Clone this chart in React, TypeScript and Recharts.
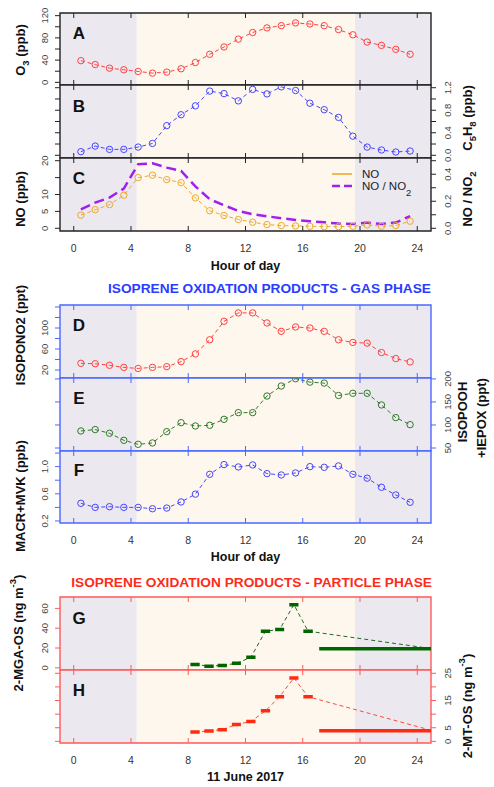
import React from "react";
import { ComposedChart, Line, XAxis, YAxis, ReferenceArea } from "recharts";

// hourly diurnal means (hour of day, bin centres)
const hours = [0.5, 1.5, 2.5, 3.5, 4.5, 5.5, 6.5, 7.5, 8.5, 9.5, 10.5, 11.5, 12.5, 13.5, 14.5, 15.5, 16.5, 17.5, 18.5, 19.5, 20.5, 21.5, 22.5, 23.5];
const o3 = [39, 32, 25.5, 22.6, 19.6, 16.6, 18.4, 24.4, 35.6, 50.5, 63.6, 77.8, 89.7, 98, 102, 107, 105, 102, 95, 85.6, 72.5, 66.5, 59.4, 50.5];
const isoprene = [0.064, 0.164, 0.105, 0.105, 0.146, 0.21, 0.527, 0.72, 0.878, 1.14, 1.095, 0.966, 1.17, 1.09, 1.215, 1.15, 0.925, 0.81, 0.673, 0.34, 0.146, 0.094, 0.058, 0.076];
const no = [3.9, 5.5, 7.0, 9.8, 15.0, 15.7, 14.4, 13.5, 9.0, 5.2, 3.8, 2.6, 1.8, 1.1, 0.8, 0.7, 0.6, 0.5, 0.5, 0.6, 1.0, 0.6, 0.8, 2.1];
const noRatio = [0.14, 0.19, 0.227, 0.294, 0.474, 0.481, 0.449, 0.425, 0.31, 0.215, 0.17, 0.128, 0.104, 0.089, 0.074, 0.062, 0.052, 0.044, 0.035, 0.032, 0.042, 0.032, 0.042, 0.09];
const isopono2 = [32.8, 32, 29, 25, 23, 25, 26.4, 36, 50.7, 77.6, 112.8, 128.8, 128.8, 109.6, 93.6, 102, 100, 93.6, 77.6, 72.5, 71.2, 53.3, 41.8, 35.4];
const isopooh = [87, 90, 82, 66.7, 58, 61, 85.5, 105, 97.8, 99.3, 112.3, 126.8, 126.8, 162.9, 184.6, 200.5, 193, 191, 164, 168.8, 168.8, 143.5, 116, 100.7];
const macrMvk = [0.46, 0.4, 0.41, 0.4, 0.4, 0.38, 0.39, 0.48, 0.595, 0.887, 1.03, 0.995, 1.025, 0.897, 0.877, 0.907, 1.0, 0.99, 1.01, 0.887, 0.83, 0.696, 0.583, 0.475];

// filter samples, 11 June 2017 (last one runs overnight)
const sampleStart = [8.15, 9.12, 10.05, 11.05, 12.05, 13.07, 14.07, 15.06, 16.04, 17.15];
const sampleEnd = [8.8, 9.78, 10.7, 11.68, 12.7, 13.72, 14.7, 15.7, 16.7, 33];
const mgaOs = [3.4, 1.7, 2.4, 4.5, 10.6, 37, 38.7, 63.8, 37, 19.2];
const mtOs = [3.45, 3.8, 4.3, 6.2, 7.3, 11.2, 16.4, 23.3, 16.4, 3.9];

const hourTicks = [0, 4, 8, 12, 16, 20, 24];
const sunrise = 4.4;
const sunset = 19.65;

const o3Ticks = [0, 20, 40, 60, 80, 100, 120];
const o3Labels = [0, 40, 80, 120];
const isopTicks = [0, 0.2, 0.4, 0.6, 0.8, 1.0, 1.2];
const isopLabels = [0, 0.4, 0.8, 1.2];
const noTicks = [0, 5, 10, 15, 20];
const noLabels = [0, 5, 10, 20];
const ratioTicks = [0, 0.1, 0.2, 0.3, 0.4, 0.5];
const ratioLabels = [0, 0.2, 0.4];
const isoponoTicks = [20, 40, 60, 80, 100, 120, 140];
const isoponoLabels = [20, 60, 100];
const isopoohTicks = [50, 100, 150, 200];
const macrTicks = [0.2, 0.4, 0.6, 0.8, 1.0, 1.2];
const macrLabels = [0.2, 0.6, 1.0];
const mgaTicks = [0, 20, 40, 60];
const mtTicks = [0, 5, 10, 15, 20, 25];
const mtLabels = [0, 5, 15, 25];

const FONT = "'Liberation Sans', Arial, Helvetica, sans-serif";
const X_DOMAIN: [number, number] = [-0.96, 24.96];
const NIGHT = "#ECE8F0";
const DAY = "#FEF7EE";

const gasRows = hours.map((hour, i) => ({
  hour,
  o3: o3[i],
  isoprene: isoprene[i],
  no: no[i],
  noRatio: noRatio[i],
  isopono2: isopono2[i],
  isopooh: isopooh[i],
  macr: macrMvk[i],
}));

function barRows(values: number[]) {
  const rows: { hour: number; v: number | null }[] = [];
  values.forEach((v, i) => {
    rows.push({ hour: sampleStart[i], v });
    rows.push({ hour: sampleEnd[i], v });
    rows.push({ hour: sampleEnd[i] + 0.01, v: null });
  });
  return rows;
}
function midRows(values: number[]) {
  return values.map((v, i) => ({ hour: (sampleStart[i] + sampleEnd[i]) / 2, v }));
}

type AxisSpec = { domain: [number, number]; ticks: number[]; labels: number[]; digits: number };

function yTick(spec: AxisSpec, side: "left" | "right", color: string, withLabels: boolean) {
  return (p: any) => {
    const v = p.payload.value;
    const dir = side === "left" ? -1 : 1;
    const show = withLabels && spec.labels.some((l) => Math.abs(l - v) < 1e-9);
    return (
      <g>
        <line x1={p.x} x2={p.x + dir * 5} y1={p.y} y2={p.y} stroke={color} strokeWidth={1} />
        {show && (
          <text
            transform={`translate(${p.x + dir * 16},${p.y}) rotate(-90)`}
            textAnchor="middle"
            dominantBaseline="central"
            fontSize={9.5}
            fill="#444"
            fontFamily={FONT}
          >
            {v.toFixed(spec.digits)}
          </text>
        )}
      </g>
    );
  };
}

function xTick(pos: "top" | "bottom", color: string, showLabels: boolean) {
  return (p: any) => (
    <g>
      <line x1={p.x} x2={p.x} y1={p.y} y2={p.y + (pos === "top" ? 5 : -5)} stroke={color} strokeWidth={1} />
      {showLabels && (
        <text x={p.x} y={p.y + 21} textAnchor="middle" fontSize={10.5} fill="#333" fontFamily={FONT}>
          {p.payload.value}
        </text>
      )}
    </g>
  );
}

interface PanelProps {
  top: number;
  bottom: number;
  data?: any[];
  left: AxisSpec;
  right?: AxisSpec;
  labelSide: "left" | "right" | "both";
  color: string;
  showX?: boolean;
  children: React.ReactNode;
}

function Panel({ top, bottom, data, left, right, labelSide, color, showX = false, children }: PanelProps) {
  const h = bottom - top;
  const rightSpec = right ?? left;
  const hasRight = labelSide !== "left";
  return (
    <div style={{ position: "absolute", left: 0, top: top - 10, width: 494, height: h + 40 }}>
      <ComposedChart width={494} height={h + 40} data={data} margin={{ top: 0, right: 0, bottom: 0, left: 0 }}>
        <XAxis
          dataKey="hour"
          type="number"
          domain={X_DOMAIN}
          allowDataOverflow
          ticks={hourTicks}
          interval={0}
          height={30}
          tickSize={0}
          tickMargin={0}
          tickLine={false}
          axisLine={false}
          tick={xTick("bottom", color, showX)}
        />
        <XAxis
          xAxisId="t"
          orientation="top"
          dataKey="hour"
          type="number"
          domain={X_DOMAIN}
          allowDataOverflow
          ticks={hourTicks}
          interval={0}
          height={10}
          tickSize={0}
          tickMargin={0}
          tickLine={false}
          axisLine={false}
          tick={xTick("top", color, false)}
        />
        <YAxis
          yAxisId="L"
          type="number"
          domain={left.domain}
          allowDataOverflow
          ticks={left.ticks}
          interval={0}
          width={60}
          tickSize={0}
          tickMargin={0}
          tickLine={false}
          axisLine={false}
          tick={yTick(left, "left", color, labelSide !== "right")}
        />
        <YAxis
          yAxisId="R"
          orientation="right"
          type="number"
          domain={rightSpec.domain}
          allowDataOverflow
          ticks={rightSpec.ticks}
          interval={0}
          width={63}
          tickSize={0}
          tickMargin={0}
          tickLine={false}
          axisLine={false}
          tick={hasRight ? yTick(rightSpec, "right", color, true) : () => <g />}
        />
        <ReferenceArea yAxisId="L" x1={X_DOMAIN[0]} x2={sunrise} fill={NIGHT} fillOpacity={1} stroke="none" />
        <ReferenceArea yAxisId="L" x1={sunrise} x2={sunset} fill={DAY} fillOpacity={1} stroke="none" />
        <ReferenceArea yAxisId="L" x1={sunset} x2={X_DOMAIN[1]} fill={NIGHT} fillOpacity={1} stroke="none" />
        {children}
        <ReferenceArea yAxisId="L" x1={X_DOMAIN[0]} x2={X_DOMAIN[1]} fill="none" stroke={color} strokeWidth={1.4} />
      </ComposedChart>
    </div>
  );
}

function dots(color: string) {
  return { r: 3.2, fill: "transparent", stroke: color, strokeWidth: 1, strokeDasharray: "none" };
}

function Rot({ x, y, size = 13, children }: { x: number; y: number; size?: number; children: React.ReactNode }) {
  return (
    <text
      transform={`translate(${x},${y}) rotate(-90)`}
      textAnchor="middle"
      dominantBaseline="central"
      fontSize={size}
      fontWeight="bold"
      fill="#111"
      fontFamily={FONT}
    >
      {children}
    </text>
  );
}

const sub = { baselineShift: "sub", fontSize: 9.5 } as any;
const sup = { baselineShift: "super", fontSize: 9.5 } as any;

export default function App() {
  const BLACK = "#222";
  const BLUE = "#4a68ff";
  const RED = "#ff5a5a";

  const o3Axis: AxisSpec = { domain: [-4.8, 124.8], ticks: o3Ticks, labels: o3Labels, digits: 0 };
  const isopAxis: AxisSpec = { domain: [-0.048, 1.248], ticks: isopTicks, labels: isopLabels, digits: 1 };
  const noAxis: AxisSpec = { domain: [-0.8, 20.8], ticks: noTicks, labels: noLabels, digits: 0 };
  const ratioAxis: AxisSpec = { domain: [-0.02, 0.52], ticks: ratioTicks, labels: ratioLabels, digits: 1 };
  const isoponoAxis: AxisSpec = { domain: [4.8, 143.8], ticks: isoponoTicks, labels: isoponoLabels, digits: 0 };
  const isopoohAxis: AxisSpec = { domain: [43.5, 202], ticks: isopoohTicks, labels: isopoohTicks, digits: 0 };
  const macrAxis: AxisSpec = { domain: [0.17, 1.23], ticks: macrTicks, labels: macrLabels, digits: 1 };
  const mgaAxis: AxisSpec = { domain: [-2.2, 71.5], ticks: mgaTicks, labels: mgaTicks, digits: 0 };
  const mtAxis: AxisSpec = { domain: [-0.6, 26.2], ticks: mtTicks, labels: mtLabels, digits: 0 };

  return (
    <div style={{ position: "absolute", left: 0, top: 0, width: 494, height: 787, background: "#fff", fontFamily: FONT }}>
      <Panel top={13} bottom={85} data={gasRows} left={o3Axis} labelSide="left" color={BLACK}>
        <Line yAxisId="L" dataKey="o3" stroke="#ff4040" strokeDasharray="4 3" dot={dots("#ff4040")} isAnimationActive={false} />
      </Panel>
      <Panel top={85} bottom={158} data={gasRows} left={isopAxis} labelSide="right" color={BLACK}>
        <Line yAxisId="L" dataKey="isoprene" stroke="#4646ff" strokeDasharray="4 3" dot={dots("#4646ff")} isAnimationActive={false} />
      </Panel>
      <Panel top={158} bottom={231} data={gasRows} left={noAxis} right={ratioAxis} labelSide="both" color={BLACK} showX>
        <Line yAxisId="R" dataKey="noRatio" stroke="#a020f0" strokeWidth={2.5} strokeDasharray="10 5" dot={false} isAnimationActive={false} />
        <Line yAxisId="L" dataKey="no" stroke="#efa82d" strokeDasharray="4 3" dot={dots("#efa82d")} isAnimationActive={false} />
      </Panel>

      <Panel top={305} bottom={378} data={gasRows} left={isoponoAxis} labelSide="left" color={BLUE}>
        <Line yAxisId="L" dataKey="isopono2" stroke="#ff4040" strokeDasharray="4 3" dot={dots("#ff4040")} isAnimationActive={false} />
      </Panel>
      <Panel top={378} bottom={451} data={gasRows} left={isopoohAxis} labelSide="right" color={BLUE}>
        <Line yAxisId="L" dataKey="isopooh" stroke="#2f7a2a" strokeDasharray="4 3" dot={dots("#2f7a2a")} isAnimationActive={false} />
      </Panel>
      <Panel top={451} bottom={523} data={gasRows} left={macrAxis} labelSide="left" color={BLUE} showX>
        <Line yAxisId="L" dataKey="macr" stroke="#4646ff" strokeDasharray="4 3" dot={dots("#4646ff")} isAnimationActive={false} />
      </Panel>

      <Panel top={597} bottom={670} left={mgaAxis} labelSide="left" color={RED}>
        <Line yAxisId="L" data={midRows(mgaOs)} dataKey="v" stroke="#1e6b1e" strokeDasharray="4 3" dot={false} isAnimationActive={false} />
        <Line yAxisId="L" data={barRows(mgaOs)} dataKey="v" stroke="#006400" strokeWidth={3.5} strokeLinecap="butt" dot={false} isAnimationActive={false} />
      </Panel>
      <Panel top={670} bottom={743} left={mtAxis} labelSide="right" color={RED} showX>
        <Line yAxisId="L" data={midRows(mtOs)} dataKey="v" stroke="#ff4a3a" strokeDasharray="4 3" dot={false} isAnimationActive={false} />
        <Line yAxisId="L" data={barRows(mtOs)} dataKey="v" stroke="#ff2a10" strokeWidth={3.5} strokeLinecap="butt" dot={false} isAnimationActive={false} />
      </Panel>

      <svg width={494} height={787} style={{ position: "absolute", left: 0, top: 0, pointerEvents: "none" }}>
        {[
          ["A", 39],
          ["B", 112],
          ["C", 184],
          ["D", 331],
          ["E", 404],
          ["F", 476],
          ["G", 624],
          ["H", 696],
        ].map(([l, y]) => (
          <text key={l as string} x={79} y={y as number} textAnchor="middle" fontSize={17} fontWeight="bold" fill="#111" fontFamily={FONT}>
            {l}
          </text>
        ))}

        <line x1={332} x2={352} y1={174} y2={174} stroke="#efa82d" strokeWidth={1.6} />
        <line x1={332} x2={352} y1={186} y2={186} stroke="#a020f0" strokeWidth={2.5} strokeDasharray="8 4" />
        <text x={362} y={178} fontSize={11.5} fill="#222" fontFamily={FONT}>NO</text>
        <text x={362} y={190} fontSize={11.5} fill="#222" fontFamily={FONT}>
          NO / NO<tspan style={sub}>2</tspan>
        </text>

        <Rot x={20} y={50}>
          O<tspan style={sub}>3</tspan> (ppb)
        </Rot>
        <Rot x={20} y={199}>NO (ppb)</Rot>
        <Rot x={20} y={335}>ISOPONO2 (ppt)</Rot>
        <Rot x={20} y={496}>MACR+MVK (ppb)</Rot>
        <Rot x={18} y={633}>
          2-MGA-OS (ng m<tspan style={sup}>-3</tspan>)
        </Rot>

        <Rot x={467} y={118}>
          C<tspan style={sub}>5</tspan>H<tspan style={sub}>8</tspan> (ppb)
        </Rot>
        <Rot x={467} y={199}>
          NO / NO<tspan style={sub}>2</tspan>
        </Rot>
        <Rot x={462} y={412}>ISOPOOH</Rot>
        <Rot x={481} y={418}>+IEPOX (ppt)</Rot>
        <Rot x={467} y={706}>
          2-MT-OS (ng m<tspan style={sup}>-3</tspan>)
        </Rot>

        <text x={245.5} y={270} textAnchor="middle" fontSize={12.5} fontWeight="bold" fill="#111" fontFamily={FONT}>Hour of day</text>
        <text x={245.5} y={561} textAnchor="middle" fontSize={12.5} fontWeight="bold" fill="#111" fontFamily={FONT}>Hour of day</text>
        <text x={245.5} y={781} textAnchor="middle" fontSize={12.5} fontWeight="bold" fill="#111" fontFamily={FONT}>11 June 2017</text>

        <text x={431} y={293} textAnchor="end" fontSize={13.7} fontWeight="bold" fill="#2a3cff" fontFamily={FONT}>
          ISOPRENE OXIDATION PRODUCTS - GAS PHASE
        </text>
        <text x={432} y={587} textAnchor="end" fontSize={13.7} fontWeight="bold" fill="#ff2a1a" fontFamily={FONT}>
          ISOPRENE OXIDATION PRODUCTS - PARTICLE PHASE
        </text>
      </svg>
    </div>
  );
}
